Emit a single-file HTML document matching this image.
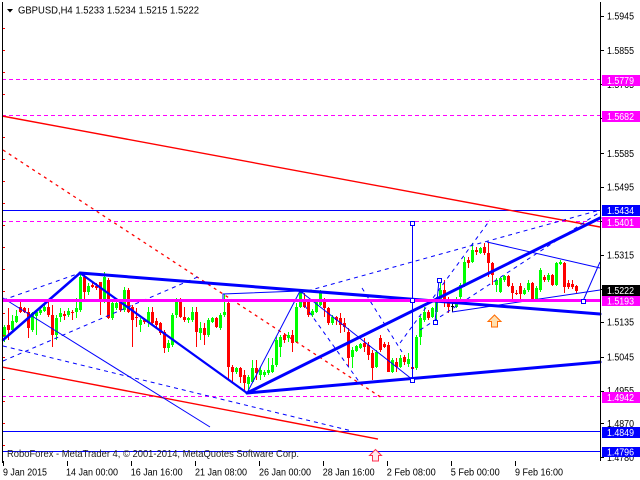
<!DOCTYPE html>
<html><head><meta charset="utf-8"><style>
html,body{margin:0;padding:0;background:#fff;}
svg{display:block;}
text{font-family:"Liberation Sans",sans-serif;}
</style></head><body>
<svg width="640" height="480" viewBox="0 0 640 480" xmlns="http://www.w3.org/2000/svg">
<defs>
<pattern id="mdash" x="2" y="0" width="7" height="480" patternUnits="userSpaceOnUse"><rect x="0" y="0" width="4" height="480" fill="#FF00FF"/></pattern>
</defs>
<rect width="640" height="480" fill="#fff"/>

<!-- candles -->
<path fill="#00FF00" d="M3 327h3v10h-3zM4 325h1v17h-1zM11 321h3v9h-3zM12 315h1v18h-1zM15 316h3v6h-3zM16 310h1v13h-1zM31 313h3v17h-3zM32 312h1v20h-1zM35 312h3v4h-3zM36 310h1v25h-1zM39 310h3v3h-3zM40 307h1v8h-1zM43 307h3v4h-3zM44 303h1v9h-1zM55 318h3v17h-3zM56 315h1v25h-1zM59 313h3v4h-3zM60 308h1v14h-1zM67 311h3v4h-3zM68 308h1v9h-1zM75 308h3v4h-3zM76 298h1v20h-1zM79 277h3v33h-3zM80 273h1v39h-1zM87 286h3v6h-3zM88 283h1v12h-1zM103 277h3v25h-3zM104 272h1v31h-1zM111 303h3v15h-3zM112 302h1v18h-1zM115 303h3v5h-3zM116 302h1v8h-1zM123 290h3v20h-3zM124 287h1v25h-1zM139 320h3v5h-3zM140 318h1v14h-1zM147 312h3v10h-3zM148 307h1v20h-1zM167 343h3v5h-3zM168 340h1v12h-1zM171 315h3v30h-3zM172 313h1v34h-1zM175 300h3v15h-3zM176 298h1v20h-1zM187 318h3v2h-3zM188 317h1v6h-1zM191 312h3v8h-3zM192 307h1v15h-1zM199 328h3v5h-3zM200 322h1v18h-1zM207 320h3v15h-3zM208 318h1v19h-1zM211 318h3v4h-3zM212 317h1v6h-1zM219 315h3v13h-3zM220 313h1v17h-1zM223 312h3v3h-3zM224 294h1v23h-1zM235 368h3v4h-3zM236 367h1v7h-1zM247 377h3v7h-3zM248 375h1v18h-1zM251 368h3v14h-3zM252 360h1v23h-1zM259 370h3v5h-3zM260 367h1v13h-1zM263 372h3v3h-3zM264 370h1v7h-1zM267 370h3v3h-3zM268 358h1v17h-1zM271 365h3v7h-3zM272 358h1v15h-1zM275 340h3v25h-3zM276 337h1v30h-1zM279 337h3v10h-3zM280 335h1v22h-1zM287 335h3v3h-3zM288 332h1v10h-1zM295 307h3v35h-3zM296 303h1v40h-1zM299 292h3v15h-3zM300 290h1v18h-1zM311 311h3v4h-3zM312 309h1v8h-1zM315 302h3v10h-3zM316 299h1v14h-1zM319 292h3v13h-3zM320 290h1v16h-1zM331 317h3v6h-3zM332 315h1v10h-1zM351 350h3v7h-3zM352 347h1v21h-1zM355 346h3v5h-3zM356 345h1v7h-1zM359 344h3v4h-3zM360 343h1v6h-1zM375 352h3v15h-3zM376 350h1v18h-1zM391 360h3v12h-3zM392 358h1v15h-1zM399 358h3v9h-3zM400 355h1v13h-1zM407 359h3v5h-3zM408 353h1v14h-1zM415 337h3v31h-3zM416 335h1v35h-1zM419 318h3v19h-3zM420 316h1v29h-1zM423 312h3v8h-3zM424 307h1v15h-1zM431 308h3v9h-3zM432 307h1v11h-1zM435 300h3v12h-3zM436 297h1v25h-1zM439 290h3v10h-3zM440 280h1v22h-1zM455 300h3v7h-3zM456 297h1v11h-1zM459 285h3v12h-3zM460 283h1v17h-1zM463 262h3v23h-3zM464 257h1v30h-1zM471 250h3v12h-3zM472 243h1v20h-1zM479 248h3v5h-3zM480 247h1v7h-1zM495 280h3v5h-3zM496 278h1v14h-1zM499 278h3v14h-3zM500 277h1v16h-1zM503 276h3v4h-3zM504 275h1v7h-1zM523 290h3v4h-3zM524 288h1v7h-1zM527 283h3v7h-3zM528 280h1v12h-1zM535 288h3v11h-3zM536 286h1v14h-1zM539 270h3v20h-3zM540 268h1v24h-1zM547 275h3v5h-3zM548 273h1v9h-1zM555 263h3v22h-3zM556 262h1v24h-1zM559 262h3v2h-3zM560 260h1v5h-1z"/>
<path fill="#FF0000" d="M7 325h3v5h-3zM8 308h1v32h-1zM19 307h3v5h-3zM20 302h1v11h-1zM23 308h3v4h-3zM24 307h1v6h-1zM27 312h3v16h-3zM28 308h1v30h-1zM47 307h3v8h-3zM48 302h1v15h-1zM51 315h3v20h-3zM52 305h1v42h-1zM63 314h3v2h-3zM64 311h1v9h-1zM71 312h3v1h-3zM72 310h1v10h-1zM83 277h3v15h-3zM84 273h1v27h-1zM91 285h3v2h-3zM92 283h1v5h-1zM95 286h3v2h-3zM96 283h1v7h-1zM99 282h3v20h-3zM100 282h1v33h-1zM107 280h3v38h-3zM108 278h1v41h-1zM119 302h3v8h-3zM120 300h1v12h-1zM127 290h3v22h-3zM128 288h1v25h-1zM131 307h3v13h-3zM132 305h1v42h-1zM135 317h3v1h-3zM136 308h1v19h-1zM143 320h3v2h-3zM144 318h1v6h-1zM151 312h3v11h-3zM152 307h1v18h-1zM155 321h3v4h-3zM156 318h1v10h-1zM159 323h3v10h-3zM160 322h1v13h-1zM163 332h3v16h-3zM164 330h1v23h-1zM179 300h3v17h-3zM180 298h1v20h-1zM183 317h3v3h-3zM184 307h1v15h-1zM195 312h3v20h-3zM196 307h1v40h-1zM203 328h3v7h-3zM204 323h1v22h-1zM215 318h3v9h-3zM216 317h1v11h-1zM227 303h3v64h-3zM228 302h1v78h-1zM231 367h3v5h-3zM232 365h1v18h-1zM239 368h3v9h-3zM240 367h1v16h-1zM243 375h3v8h-3zM244 370h1v22h-1zM255 368h3v5h-3zM256 360h1v20h-1zM283 335h3v5h-3zM284 333h1v10h-1zM291 335h3v8h-3zM292 330h1v22h-1zM303 299h3v8h-3zM304 293h1v15h-1zM307 302h3v13h-3zM308 300h1v17h-1zM323 300h3v8h-3zM324 298h1v19h-1zM327 308h3v15h-3zM328 307h1v18h-1zM335 317h3v3h-3zM336 316h1v9h-1zM339 318h3v7h-3zM340 313h1v20h-1zM343 323h3v4h-3zM344 318h1v14h-1zM347 332h3v26h-3zM348 328h1v39h-1zM363 343h3v4h-3zM364 338h1v14h-1zM367 345h3v10h-3zM368 342h1v18h-1zM371 353h3v15h-3zM372 350h1v30h-1zM379 338h3v12h-3zM380 335h1v17h-1zM383 344h3v3h-3zM384 342h1v6h-1zM387 345h3v27h-3zM388 342h1v30h-1zM395 362h3v5h-3zM396 358h1v14h-1zM403 357h3v5h-3zM404 355h1v10h-1zM411 367h3v2h-3zM412 358h1v22h-1zM427 312h3v6h-3zM428 310h1v10h-1zM443 290h3v9h-3zM444 280h1v27h-1zM447 299h3v8h-3zM448 297h1v16h-1zM467 260h3v3h-3zM468 257h1v11h-1zM475 250h3v2h-3zM476 247h1v8h-1zM483 247h3v6h-3zM484 243h1v12h-1zM487 253h3v10h-3zM488 242h1v35h-1zM491 263h3v12h-3zM492 262h1v23h-1zM507 276h3v10h-3zM508 275h1v12h-1zM511 286h3v7h-3zM512 283h1v17h-1zM515 293h3v1h-3zM516 290h1v5h-1zM519 286h3v8h-3zM520 283h1v17h-1zM531 283h3v16h-3zM532 282h1v18h-1zM543 277h3v3h-3zM544 275h1v7h-1zM551 275h3v10h-3zM552 274h1v12h-1zM563 263h3v24h-3zM564 262h1v31h-1zM567 283h3v4h-3zM568 280h1v9h-1zM571 284h3v3h-3zM572 280h1v9h-1zM575 286h3v5h-3zM576 285h1v8h-1z"/>
<path fill="#000" d="M451 306h3v1h-3zM452 303h1v9h-1z"/>

<!-- horizontal level lines -->
<g shape-rendering="crispEdges">
<rect x="2" y="210" width="598" height="1" fill="#0000FF"/>
<rect x="2" y="431" width="598" height="1" fill="#0000FF"/>
<rect x="2" y="451" width="598" height="1" fill="#0000FF"/>
<rect x="2" y="79" width="598" height="1" fill="url(#mdash)"/>
<rect x="2" y="115" width="598" height="1" fill="url(#mdash)"/>
<rect x="2" y="221" width="598" height="1" fill="url(#mdash)"/>
<rect x="2" y="396" width="598" height="1" fill="url(#mdash)"/>
</g>

<!-- red lines -->
<line x1="2" y1="116" x2="600" y2="227" stroke="#FF0000" stroke-width="1.4"/>
<line x1="3" y1="150" x2="382" y2="398" stroke="#FF0000" stroke-width="1.3" stroke-dasharray="3,4"/>
<line x1="2" y1="367" x2="378" y2="439" stroke="#FF0000" stroke-width="1.4"/>

<!-- blue dashed fan lines -->
<g stroke="#0000FF" stroke-width="1" stroke-dasharray="4,4" fill="none">
<line x1="300" y1="293" x2="600" y2="210"/>
<line x1="3" y1="300" x2="80" y2="273"/>
<line x1="3" y1="361" x2="200" y2="276"/>
<line x1="3" y1="346" x2="352" y2="431"/>
<line x1="300" y1="299" x2="360" y2="383"/>
<line x1="362" y1="288" x2="402" y2="352"/>
<line x1="400" y1="343" x2="490" y2="220"/>
<line x1="420" y1="330" x2="600" y2="212"/>
</g>

<!-- thin blue lines -->
<g stroke="#0000FF" stroke-width="1" fill="none">
<line x1="3" y1="298" x2="210" y2="427"/>
<polyline points="223,302 223,294 300,291 320,292"/>
<line x1="247" y1="393" x2="300" y2="291"/>
<line x1="300" y1="291" x2="413" y2="380"/>
<line x1="487" y1="242" x2="600" y2="268"/>
<line x1="600" y1="262" x2="583" y2="301"/>
<line x1="452" y1="312" x2="600" y2="290"/>
<line x1="412.5" y1="223" x2="412.5" y2="380"/>
<line x1="435" y1="322" x2="439" y2="280"/>
</g>

<!-- thick blue lines -->
<g stroke="#0000FF" fill="none" stroke-linecap="round">
<line x1="3" y1="340" x2="80" y2="273" stroke-width="2.5"/>
<line x1="80" y1="273" x2="600" y2="314" stroke-width="3"/>
<line x1="80" y1="273" x2="247" y2="393" stroke-width="2.2"/>
<line x1="247" y1="393" x2="600" y2="362" stroke-width="3"/>
<line x1="247" y1="393" x2="600" y2="218" stroke-width="3"/>
</g>

<!-- magenta solid level -->
<rect x="2" y="299" width="598" height="3" fill="#FF00FF"/>

<!-- anchor squares -->
<g stroke="#0000FF" stroke-width="1" fill="#fff" shape-rendering="crispEdges">
<rect x="410.5" y="221.5" width="4" height="4"/>
<rect x="410.5" y="378.5" width="4" height="4"/>
<rect x="410.5" y="298.5" width="4" height="4"/>
<rect x="437.5" y="278.5" width="4" height="4"/>
<rect x="433.5" y="320.5" width="4" height="4"/>
<rect x="581.5" y="299.5" width="4" height="4"/>
</g>

<!-- arrows -->
<polygon points="494.5,315 501,321.5 497.5,321.5 497.5,327 491.5,327 491.5,321.5 488,321.5" fill="#FFE0B0" stroke="#FF6A00" stroke-width="1"/>
<polygon points="375.5,449.5 381.5,455.5 378.5,455.5 378.5,461 372.5,461 372.5,455.5 369.5,455.5" fill="#FFEAEE" stroke="#FF3050" stroke-width="1"/>

<!-- left red ticks -->
<g fill="#FF0000">
<rect x="3" y="28" width="2" height="1"/><rect x="3" y="50" width="2" height="1"/><rect x="3" y="72" width="2" height="1"/><rect x="3" y="94" width="2" height="1"/><rect x="3" y="116" width="2" height="1"/><rect x="3" y="137" width="2" height="1"/><rect x="3" y="159" width="2" height="1"/><rect x="3" y="181" width="2" height="1"/><rect x="3" y="203" width="2" height="1"/><rect x="3" y="225" width="2" height="1"/><rect x="3" y="247" width="2" height="1"/><rect x="3" y="269" width="2" height="1"/><rect x="3" y="291" width="2" height="1"/><rect x="3" y="313" width="2" height="1"/><rect x="3" y="335" width="2" height="1"/><rect x="3" y="357" width="2" height="1"/><rect x="3" y="379" width="2" height="1"/><rect x="3" y="401" width="2" height="1"/><rect x="3" y="423" width="2" height="1"/><rect x="3" y="445" width="2" height="1"/>
</g>

<!-- frame -->
<g stroke="#000" stroke-width="1" shape-rendering="crispEdges">
<line x1="2.5" y1="2" x2="2.5" y2="463"/>
<line x1="600.5" y1="2" x2="600.5" y2="461"/>
<line x1="600" y1="16.5" x2="604" y2="16.5"/>
<line x1="600" y1="50.5" x2="604" y2="50.5"/>
<line x1="600" y1="84.5" x2="604" y2="84.5"/>
<line x1="600" y1="118.5" x2="604" y2="118.5"/>
<line x1="600" y1="153.5" x2="604" y2="153.5"/>
<line x1="600" y1="187.5" x2="604" y2="187.5"/>
<line x1="600" y1="221.5" x2="604" y2="221.5"/>
<line x1="600" y1="255.5" x2="604" y2="255.5"/>
<line x1="600" y1="289.5" x2="604" y2="289.5"/>
<line x1="600" y1="322.5" x2="604" y2="322.5"/>
<line x1="600" y1="357.5" x2="604" y2="357.5"/>
<line x1="600" y1="391.5" x2="604" y2="391.5"/>
<line x1="600" y1="423.5" x2="604" y2="423.5"/>
<line x1="600" y1="457.5" x2="604" y2="457.5"/>
<line x1="3.5" y1="461" x2="3.5" y2="466"/>
<line x1="67.5" y1="461" x2="67.5" y2="466"/>
<line x1="131.5" y1="461" x2="131.5" y2="466"/>
<line x1="195.5" y1="461" x2="195.5" y2="466"/>
<line x1="259.5" y1="461" x2="259.5" y2="466"/>
<line x1="323.5" y1="461" x2="323.5" y2="466"/>
<line x1="387.5" y1="461" x2="387.5" y2="466"/>
<line x1="451.5" y1="461" x2="451.5" y2="466"/>
<line x1="515.5" y1="461" x2="515.5" y2="466"/>
</g>

<!-- price scale labels -->
<g font-size="10" fill="#000">
<text x="607" y="19.5" textLength="27" lengthAdjust="spacingAndGlyphs">1.5945</text>
<text x="607" y="54" textLength="27" lengthAdjust="spacingAndGlyphs">1.5855</text>
<text x="607" y="88" textLength="27" lengthAdjust="spacingAndGlyphs">1.5765</text>
<text x="607" y="122" textLength="27" lengthAdjust="spacingAndGlyphs">1.5675</text>
<text x="607" y="157" textLength="27" lengthAdjust="spacingAndGlyphs">1.5585</text>
<text x="607" y="190.5" textLength="27" lengthAdjust="spacingAndGlyphs">1.5495</text>
<text x="607" y="225" textLength="27" lengthAdjust="spacingAndGlyphs">1.5405</text>
<text x="607" y="258.5" textLength="27" lengthAdjust="spacingAndGlyphs">1.5315</text>
<text x="607" y="293" textLength="27" lengthAdjust="spacingAndGlyphs">1.5225</text>
<text x="607" y="325.5" textLength="27" lengthAdjust="spacingAndGlyphs">1.5135</text>
<text x="607" y="360.5" textLength="27" lengthAdjust="spacingAndGlyphs">1.5045</text>
<text x="607" y="394" textLength="27" lengthAdjust="spacingAndGlyphs">1.4955</text>
<text x="607" y="427" textLength="27" lengthAdjust="spacingAndGlyphs">1.4870</text>
<text x="607" y="461" textLength="27" lengthAdjust="spacingAndGlyphs">1.4780</text>
</g>

<!-- level label boxes -->
<g shape-rendering="crispEdges">
<rect x="602" y="75" width="38" height="11" fill="#FF00FF"/>
<rect x="602" y="111" width="38" height="11" fill="#FF00FF"/>
<rect x="602" y="205" width="38" height="11" fill="#0000FF"/>
<rect x="602" y="217" width="38" height="11" fill="#FF00FF"/>
<rect x="602" y="285" width="38" height="11" fill="#000000"/>
<rect x="602" y="296" width="38" height="10" fill="#FF00FF"/>
<rect x="602" y="392" width="38" height="11" fill="#FF00FF"/>
<rect x="602" y="427" width="38" height="11" fill="#0000FF"/>
<rect x="602" y="447" width="38" height="10" fill="#0000FF"/>
</g>
<g font-size="10" fill="#fff">
<text x="607" y="84" textLength="27" lengthAdjust="spacingAndGlyphs">1.5779</text>
<text x="607" y="120" textLength="27" lengthAdjust="spacingAndGlyphs">1.5682</text>
<text x="607" y="214" textLength="27" lengthAdjust="spacingAndGlyphs">1.5434</text>
<text x="607" y="226" textLength="27" lengthAdjust="spacingAndGlyphs">1.5401</text>
<text x="607" y="294" textLength="27" lengthAdjust="spacingAndGlyphs">1.5222</text>
<text x="607" y="304.5" textLength="27" lengthAdjust="spacingAndGlyphs">1.5193</text>
<text x="607" y="401" textLength="27" lengthAdjust="spacingAndGlyphs">1.4942</text>
<text x="607" y="436" textLength="27" lengthAdjust="spacingAndGlyphs">1.4849</text>
<text x="607" y="455.5" textLength="27" lengthAdjust="spacingAndGlyphs">1.4796</text>
</g>

<!-- time labels -->
<g font-size="10" fill="#000">
<text x="3" y="475.5" textLength="44" lengthAdjust="spacingAndGlyphs">9 Jan 2015</text>
<text x="66" y="475.5" textLength="52" lengthAdjust="spacingAndGlyphs">14 Jan 00:00</text>
<text x="130.7" y="475.5" textLength="52" lengthAdjust="spacingAndGlyphs">16 Jan 16:00</text>
<text x="195" y="475.5" textLength="52" lengthAdjust="spacingAndGlyphs">21 Jan 08:00</text>
<text x="259" y="475.5" textLength="52" lengthAdjust="spacingAndGlyphs">26 Jan 00:00</text>
<text x="322.7" y="475.5" textLength="52" lengthAdjust="spacingAndGlyphs">28 Jan 16:00</text>
<text x="386.7" y="475.5" textLength="49" lengthAdjust="spacingAndGlyphs">2 Feb 08:00</text>
<text x="450.7" y="475.5" textLength="49" lengthAdjust="spacingAndGlyphs">5 Feb 00:00</text>
<text x="515" y="475.5" textLength="48" lengthAdjust="spacingAndGlyphs">9 Feb 16:00</text>
</g>

<!-- title -->
<polygon points="7,9 13,9 10,12.5" fill="#000"/>
<text x="18" y="13.5" font-size="10" fill="#000" textLength="181" lengthAdjust="spacingAndGlyphs">GBPUSD,H4  1.5233 1.5234 1.5215 1.5222</text>

<!-- copyright -->
<text x="7" y="457" font-size="10" fill="#222" textLength="292" lengthAdjust="spacingAndGlyphs">RoboForex - MetaTrader 4, © 2001-2014, MetaQuotes Software Corp.</text>
</svg>
</body></html>
